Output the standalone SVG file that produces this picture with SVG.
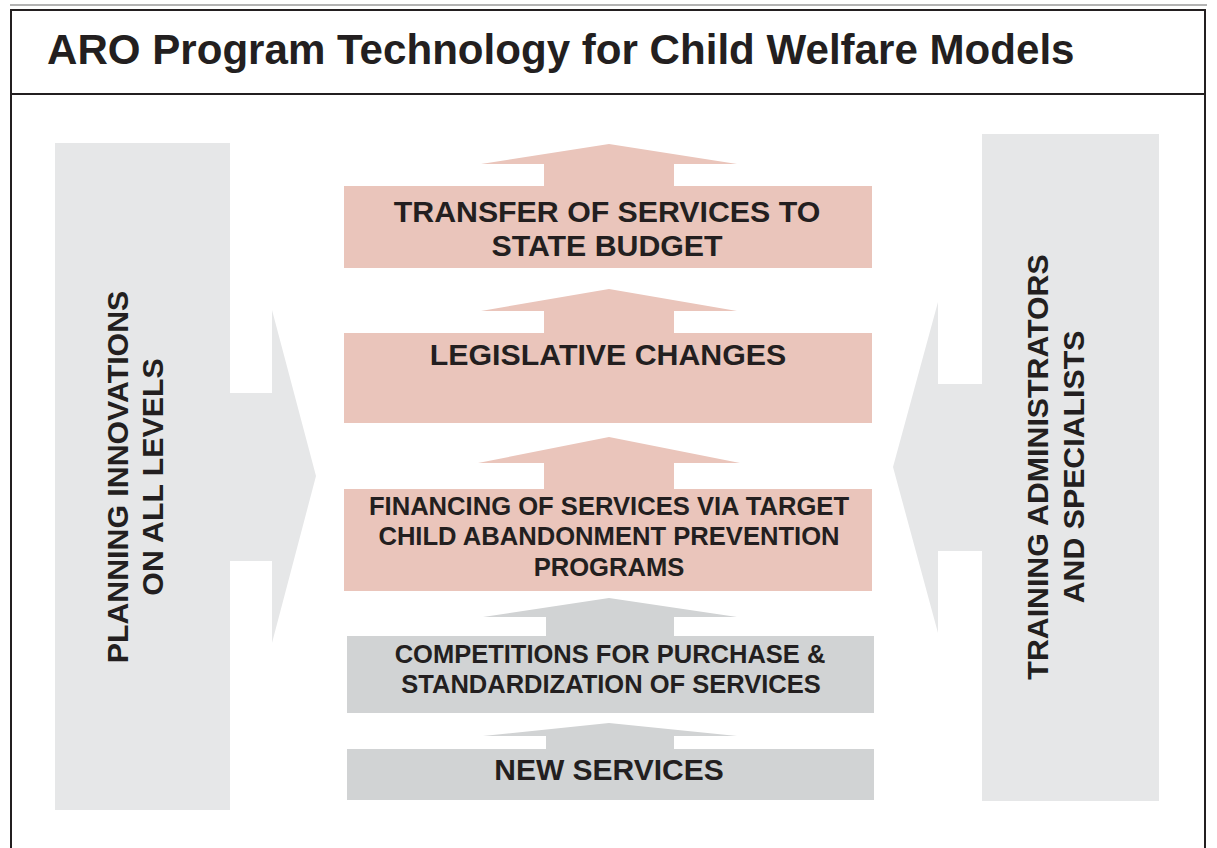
<svg xmlns="http://www.w3.org/2000/svg" width="1217" height="848" viewBox="0 0 1217 848">
<style>
.t{font-family:"Liberation Sans",Arial,Helvetica,sans-serif;font-weight:bold;fill:#231f20;text-anchor:middle}
.pink{fill:#eac5bb}
.gray{fill:#d1d3d4}
.side{fill:#e6e7e8}
</style>
<rect x="0" y="0" width="1217" height="848" fill="#ffffff"/>
<g id="frame">
<line x1="10" y1="5" x2="1207" y2="5" stroke="#9a9a9a" stroke-width="1.5"/>
<rect x="11" y="10" width="1194" height="850" fill="none" stroke="#231f20" stroke-width="2"/>
<line x1="11" y1="94" x2="1205" y2="94" stroke="#231f20" stroke-width="2"/>
</g>
<g id="title">
<text class="t" x="47" y="64" style="text-anchor:start;font-size:42.1px">ARO Program Technology for Child Welfare Models</text>
</g>
<g id="planning">
<polygon class="side" points="55,143 230,143 230,393 272,393 272,310 316,476 272,643 272,561 230,561 230,810 55,810"/>
<text class="t" style="font-size:30.3px" transform="translate(128,477) rotate(-90)">PLANNING INNOVATIONS</text>
<text class="t" style="font-size:30.3px" transform="translate(163,477) rotate(-90)">ON ALL LEVELS</text>
</g>
<g id="training">
<polygon class="side" points="982,134 1159,134 1159,801 982,801 982,551 938,551 938,633 893,467 938,302 938,384 982,384"/>
<text class="t" style="font-size:30.3px" transform="translate(1048,467) rotate(-90)">TRAINING ADMINISTRATORS</text>
<text class="t" style="font-size:30.3px" transform="translate(1084,467) rotate(-90)">AND SPECIALISTS</text>
</g>
<g id="connectors">
<polygon class="pink" points="609,144 737,164 674,164 674,187 544,187 544,164 481,164"/>
<polygon class="pink" points="609,289 737,311 674,311 674,334 544,334 544,311 481,311"/>
<polygon class="pink" points="609,437 740,463 674,463 674,490 544,490 544,463 478,463"/>
<polygon class="gray" points="609,598 737,617 674,617 674,637 546,637 546,617 483,617"/>
<polygon class="gray" points="609,723 737,736 674,736 674,750 546,750 546,736 483,736"/>
</g>
<g id="transfer">
<rect class="pink" x="344" y="186" width="528" height="82"/>
<text class="t" x="607" y="222" style="font-size:30.3px">TRANSFER OF SERVICES TO</text>
<text class="t" x="607" y="256" style="font-size:30.3px">STATE BUDGET</text>
</g>
<g id="legislative">
<rect class="pink" x="344" y="333" width="528" height="90"/>
<text class="t" x="608" y="365" style="font-size:30.3px">LEGISLATIVE CHANGES</text>
</g>
<g id="financing">
<rect class="pink" x="344" y="489" width="528" height="102"/>
<text class="t" x="609" y="515" style="font-size:25.6px">FINANCING OF SERVICES VIA TARGET</text>
<text class="t" x="609" y="545" style="font-size:25.6px">CHILD ABANDONMENT PREVENTION</text>
<text class="t" x="609" y="576" style="font-size:25.6px">PROGRAMS</text>
</g>
<g id="competitions">
<rect class="gray" x="347" y="636" width="527" height="77"/>
<text class="t" x="610" y="663" style="font-size:25.5px">COMPETITIONS FOR PURCHASE &amp;</text>
<text class="t" x="611" y="693" style="font-size:25.5px">STANDARDIZATION OF SERVICES</text>
</g>
<g id="new-services">
<rect class="gray" x="347" y="749" width="527" height="51"/>
<text class="t" x="609" y="780" style="font-size:30px">NEW SERVICES</text>
</g>
</svg>
